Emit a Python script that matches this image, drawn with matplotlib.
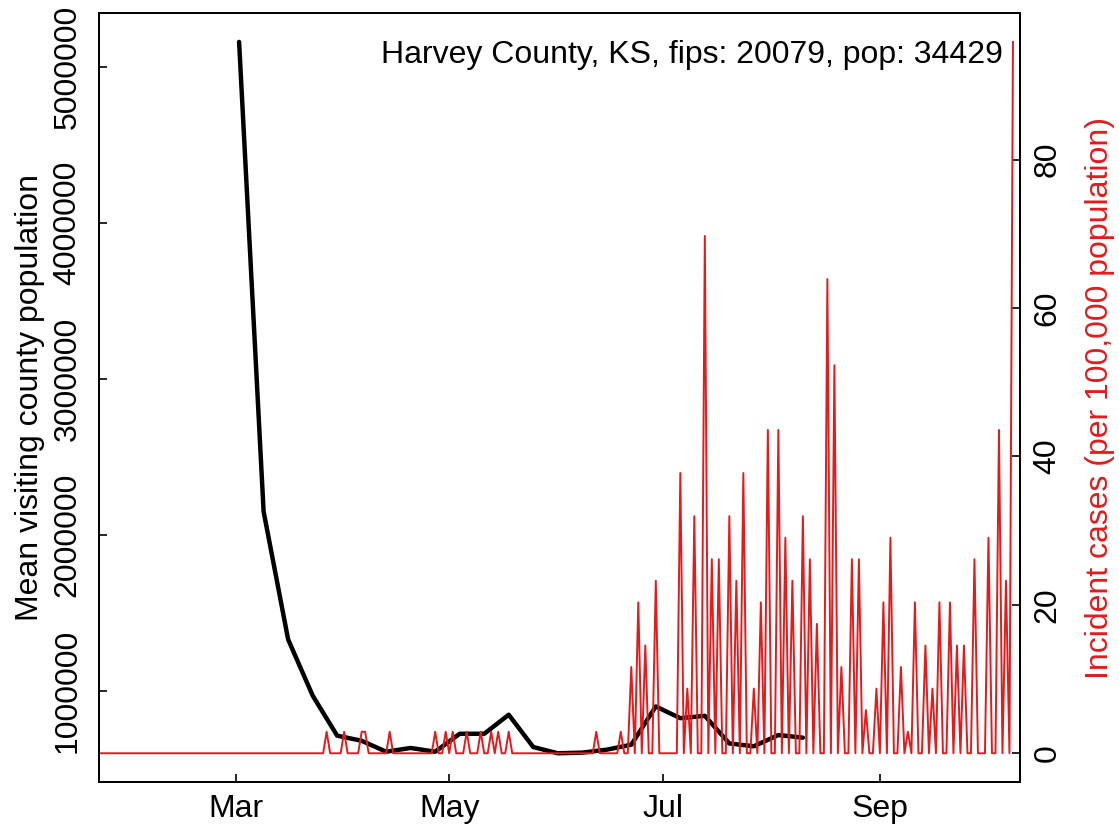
import pandas as pd
import matplotlib
matplotlib.use("Agg")
import matplotlib.pyplot as plt
import matplotlib.dates as mdates
from matplotlib.ticker import FuncFormatter

plt.rcParams['font.family'] = ['Liberation Sans', 'DejaVu Sans']

# weekly mean visiting county population (black line, left axis)
visit_dates = ['2020-03-02', '2020-03-09', '2020-03-16', '2020-03-23', '2020-03-30',
               '2020-04-06', '2020-04-13', '2020-04-20', '2020-04-27', '2020-05-04',
               '2020-05-11', '2020-05-18', '2020-05-25', '2020-06-01', '2020-06-08',
               '2020-06-15', '2020-06-22', '2020-06-29', '2020-07-06', '2020-07-13',
               '2020-07-20', '2020-07-27', '2020-08-03', '2020-08-10']
visit_pop = [5160000, 2150000, 1330000, 970000, 713000,
             680000, 610000, 634000, 610000, 725000,
             725000, 847000, 640000, 600000, 604000,
             623000, 655000, 900000, 825000, 840000,
             663000, 645000, 717000, 700000]

# daily incident cases per 100,000 (red line, right axis); days not listed are 0
first_day = '2020-01-22'
last_day = '2020-10-09'
case_dates = ['2020-03-27', '2020-04-01', '2020-04-06', '2020-04-07', '2020-04-14',
              '2020-04-27', '2020-04-30', '2020-05-02', '2020-05-06', '2020-05-10',
              '2020-05-13', '2020-05-15', '2020-05-18', '2020-06-12', '2020-06-19',
              '2020-06-22', '2020-06-24', '2020-06-26', '2020-06-29', '2020-07-06',
              '2020-07-08', '2020-07-10', '2020-07-13', '2020-07-15', '2020-07-17',
              '2020-07-20', '2020-07-22', '2020-07-24', '2020-07-27', '2020-07-29',
              '2020-07-31', '2020-08-03', '2020-08-05', '2020-08-07', '2020-08-10',
              '2020-08-12', '2020-08-14', '2020-08-17', '2020-08-19', '2020-08-21',
              '2020-08-24', '2020-08-26', '2020-08-28', '2020-08-31', '2020-09-02',
              '2020-09-04', '2020-09-07', '2020-09-09', '2020-09-11', '2020-09-14',
              '2020-09-16', '2020-09-18', '2020-09-21', '2020-09-23', '2020-09-25',
              '2020-09-28', '2020-10-02', '2020-10-05', '2020-10-07', '2020-10-09']
case_rates = [2.90, 2.90, 2.90, 2.90, 2.90,
              2.90, 2.90, 2.90, 2.90, 2.90,
              2.90, 2.90, 2.90, 2.90, 2.90,
              11.62, 20.33, 14.52, 23.24, 37.76,
              8.71, 31.95, 69.71, 26.14, 26.14,
              31.95, 23.24, 37.76, 8.71, 20.33,
              43.57, 43.57, 29.05, 23.24, 31.95,
              26.14, 17.43, 63.90, 52.28, 11.62,
              26.14, 26.14, 5.81, 8.71, 20.33,
              29.05, 11.62, 2.90, 20.33, 14.52,
              8.71, 20.33, 20.33, 14.52, 14.52,
              26.14, 29.05, 43.57, 23.24, 95.85]

title = 'Harvey County, KS, fips: 20079, pop: 34429'
red = '#E41A1C'
fs = 23

daily = pd.Series(case_rates, index=pd.to_datetime(case_dates))
daily = daily.reindex(pd.date_range(first_day, last_day, freq='D'), fill_value=0)

fig = plt.figure(figsize=(11.19, 8.31), dpi=100)
ax = fig.add_axes([0.0885, 0.0593, 0.823, 0.9245])
ax.plot(pd.to_datetime(visit_dates), visit_pop, color='black', lw=3.2,
        solid_joinstyle='round', solid_capstyle='round')
ax.margins(y=0.04)

ax2 = ax.twinx()
ax2.plot(daily.index, daily.values, color=red, lw=1.4)
ax2.margins(y=0.04)

ax.set_xlim(pd.Timestamp('2020-01-22'), pd.Timestamp('2020-10-11'))
ax.set_xticks(pd.to_datetime(['2020-03-01', '2020-05-01', '2020-07-01', '2020-09-01']))
ax.xaxis.set_major_formatter(mdates.DateFormatter('%b'))

ax.set_yticks([1000000, 2000000, 3000000, 4000000, 5000000])
ax.yaxis.set_major_formatter(FuncFormatter(lambda v, p: '%d' % v))
ax2.set_yticks([0, 20, 40, 60, 80])

for a in (ax, ax2):
    a.tick_params(direction='in', length=6, width=1.2, labelsize=fs)
    for s in a.spines.values():
        s.set_linewidth(1.3)
ax.tick_params(axis='x', pad=9)
ax.tick_params(axis='y', pad=12, labelrotation=90)
ax2.tick_params(axis='y', pad=9, labelrotation=90)
plt.setp(ax.get_yticklabels(), va='center')
plt.setp(ax2.get_yticklabels(), va='center')

ax.set_ylabel('Mean visiting county population', fontsize=fs)
ax.yaxis.set_label_coords(-0.0586, 0.5)
ax2.set_ylabel('Incident cases (per 100,000 population)', fontsize=fs, color=red)
ax2.yaxis.set_label_coords(1.0706, 0.5)

ax2.text(0.9815, 0.946, title, transform=ax.transAxes, ha='right', va='center',
         fontsize=fs)

fig.savefig('out.png', dpi=100)
